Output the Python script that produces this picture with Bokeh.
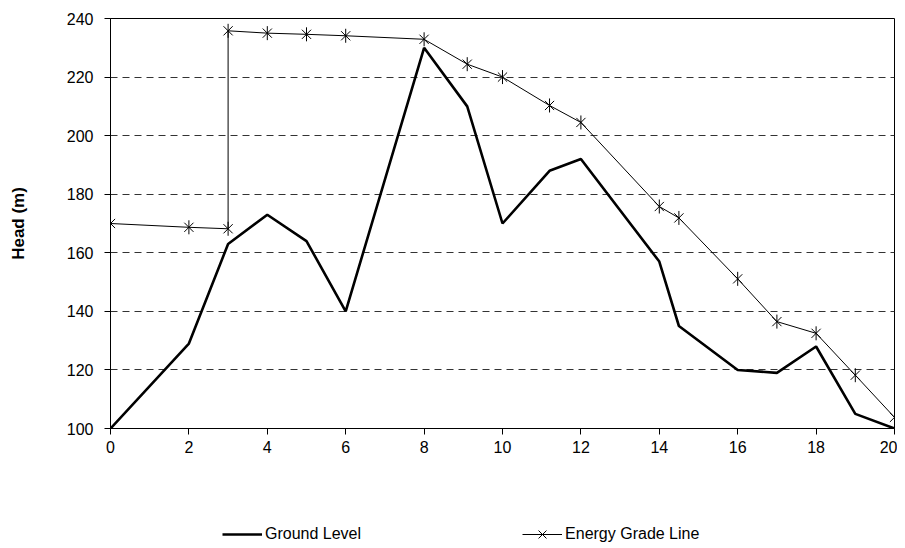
import numpy as np
from bokeh.plotting import figure
from bokeh.layouts import column
from bokeh.models import Legend, LegendItem, Range1d, FixedTicker
from bokeh.embed import file_html
from bokeh.resources import INLINE

ground_x = [0, 2, 3, 4, 5, 6, 8, 9.1, 10, 11.2, 12, 14, 14.5, 16, 17, 18, 19, 20]
ground_y = [100, 129, 163, 173, 164, 140, 230, 210, 170, 188, 192, 157, 135, 120, 119, 128, 105, 100]

egl_x = [0, 2, 3, 3, 4, 5, 6, 8, 9.1, 10, 11.2, 12, 14, 14.5, 16, 17, 18, 19, 20]
egl_y = [170, 168.7, 168.2, 235.8, 235, 234.6, 234.1, 232.9, 224.4, 220, 210.3, 204.5, 175.8, 171.9, 151.1, 136.5, 132.5, 118.2, 103.8]

x_ticks = [0, 2, 4, 6, 8, 10, 12, 14, 16, 18, 20]
y_ticks = [100, 120, 140, 160, 180, 200, 220, 240]
series_names = ["Ground Level", "Energy Grade Line"]

FONT = "Liberation Sans"

p = figure(width=897, height=470, output_backend="svg", toolbar_location=None,
           x_range=Range1d(0, 20), y_range=Range1d(100, 240),
           min_border_left=110, min_border_right=3, min_border_top=18, min_border_bottom=42)
p.background_fill_color = "white"
p.border_fill_color = "white"
p.outline_line_color = "black"
p.outline_line_width = 1

p.xgrid.visible = False
p.ygrid.grid_line_color = "#333333"
p.ygrid.grid_line_dash = "7 5"
p.ygrid.grid_line_width = 1

for ax in (p.xaxis[0], p.yaxis[0]):
    ax.axis_line_color = "black"
    ax.major_tick_line_color = "black"
    ax.major_tick_out = 6
    ax.major_tick_in = 0
    ax.minor_tick_line_color = None
    ax.major_label_text_font = FONT
    ax.major_label_text_font_size = "16px"
    ax.major_label_text_color = "black"

p.xaxis[0].ticker = FixedTicker(ticks=x_ticks)
p.yaxis[0].ticker = FixedTicker(ticks=y_ticks)
p.xaxis[0].major_label_standoff = 6
p.yaxis[0].major_label_standoff = 11
p.yaxis[0].axis_label = "Head (m)"
p.yaxis[0].axis_label_text_font = FONT
p.yaxis[0].axis_label_text_font_style = "bold"
p.yaxis[0].axis_label_text_font_size = "17px"
p.yaxis[0].axis_label_text_color = "black"
p.yaxis[0].axis_label_standoff = 36

p.line(ground_x, ground_y, line_color="black", line_width=2.6)
p.line(egl_x, egl_y, line_color="black", line_width=1)
p.scatter(egl_x, egl_y, marker="x", size=13, line_color="black", line_width=1)
p.scatter(egl_x, egl_y, marker="dash", angle=np.pi / 2, size=14, line_color="black", line_width=1)

# legend strip below the chart (its renderers reuse the series but lie outside its view)
q = figure(width=897, height=78, output_backend="svg", toolbar_location=None,
           x_range=Range1d(0, 1), y_range=Range1d(0, 1),
           x_axis_type=None, y_axis_type=None,
           min_border_left=0, min_border_right=0, min_border_top=0, min_border_bottom=0)
q.outline_line_color = None
q.xgrid.visible = False
q.ygrid.visible = False
q.border_fill_color = "white"
q.background_fill_color = "white"

gl = q.line(ground_x, ground_y, line_color="black", line_width=2.6)
el = q.line(egl_x, egl_y, line_color="black", line_width=1)
ex = q.scatter(egl_x, egl_y, marker="x", size=13, line_color="black", line_width=1)
ed = q.scatter(egl_x, egl_y, marker="dash", angle=np.pi / 2, size=14, line_color="black", line_width=1)

legend = Legend(items=[LegendItem(label=series_names[0], renderers=[gl]),
                       LegendItem(label=series_names[1], renderers=[el, ex, ed])],
                location=(112, 0), orientation="horizontal",
                spacing=161, padding=0, margin=0, glyph_width=40, glyph_height=28,
                label_height=28, label_standoff=3,
                label_text_font=FONT, label_text_font_size="16px",
                label_text_color="black", label_text_baseline="middle",
                border_line_color=None, background_fill_alpha=0)
q.add_layout(legend, "center")

layout = column(p, q, spacing=0)
open("out.html", "w").write(file_html(layout, INLINE))
